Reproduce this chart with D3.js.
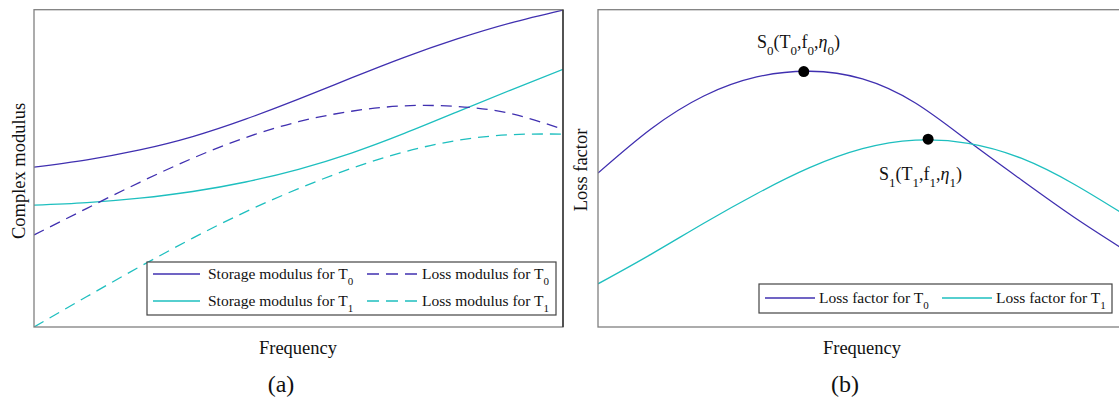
<!DOCTYPE html>
<html>
<head>
<meta charset="utf-8">
<script src="https://cdnjs.cloudflare.com/ajax/libs/d3/7.8.5/d3.min.js"></script>
<style>
  body { margin: 0; background: #fff; }
  svg { display: block; font-family: "Liberation Serif", "Times New Roman", serif; }
</style>
</head>
<body>
<div class="visHolder"></div>
<script>
const w = 1119;
const h = 403;
const blue = "#4030b0";
const cyan = "#1ebfbf";

// normalised frequency, shared by both panels
const frequency = [0, 0.1, 0.2, 0.3, 0.4, 0.5, 0.6, 0.7, 0.8, 0.9, 1];

// panel (a) - complex modulus (normalised)
const storageT0 = [0.504, 0.527, 0.558, 0.600, 0.655, 0.718, 0.785, 0.850, 0.908, 0.958, 0.999];
const storageT1 = [0.384, 0.392, 0.406, 0.427, 0.457, 0.497, 0.548, 0.610, 0.678, 0.746, 0.812];
const lossModT0 = [0.290, 0.374, 0.456, 0.532, 0.597, 0.647, 0.680, 0.697, 0.695, 0.673, 0.623];
const lossModT1 = [0.000, 0.096, 0.190, 0.280, 0.363, 0.436, 0.500, 0.552, 0.588, 0.606, 0.608];

// panel (b) - loss factor (normalised)
const lossFactorT0 = [0.485, 0.624, 0.728, 0.788, 0.806, 0.782, 0.706, 0.586, 0.464, 0.346, 0.238];
const lossFactorT1 = [0.136, 0.229, 0.327, 0.420, 0.502, 0.562, 0.589, 0.579, 0.532, 0.450, 0.349];

// peak points of the loss factor curves
const peakFreq = [0.389, 0.624];
const peakEta = [0.805, 0.592];
const peakLabels = ["S_0(T_0,f_0,~_0)", "S_1(T_1,f_1,~_1)"];

const legendA = ["Storage modulus for T_0", "Loss modulus for T_0", "Storage modulus for T_1", "Loss modulus for T_1"];
const legendB = ["Loss factor for T_0", "Loss factor for T_1"];

const svg = d3.select(".visHolder")
                .append("svg")
                .attr("width", w)
                .attr("height", h)

// writes "T_0" style strings with subscripts, "~" stands for eta
function richText(sel, str, size, subSize, subShift) {
    const parts = str.split(/(_.)/).filter(p => p !== "");
    let low = false;
    parts.forEach(p => {
        const isSub = p[0] === "_";
        const txt = (isSub ? p.slice(1) : p);
        txt.split(/(~)/).filter(c => c !== "").forEach(c => {
            const t = sel.append("tspan")
                .style("font-size", (isSub ? subSize : size) + "px")
                .text(c === "~" ? "\u03b7" : c);
            if (c === "~") t.style("font-style", "italic");
            if (isSub && !low) { t.attr("dy", subShift); low = true; }
            if (!isSub && low) { t.attr("dy", -subShift); low = false; }
        });
    });
}

function makePanel(id, x0, x1) {
    const xScale = d3.scaleLinear().domain([0, 1]).range([x0, x1]);
    const yScale = d3.scaleLinear().domain([0, 1]).range([327, 9.7]);
    svg.append("clipPath").attr("id", "clip-" + id)
       .append("rect")
       .attr("x", x0).attr("y", 9.7)
       .attr("width", x1 - x0).attr("height", 327 - 9.7);
    const g = svg.append("g").attr("id", "panel-" + id);
    return {xScale, yScale, g};
}

function drawLine(p, id, values, color, dash) {
    const line = d3.line()
        .x((d, i) => p.xScale(frequency[i]))
        .y(d => p.yScale(d))
        .curve(d3.curveNatural);
    p.g.append("path")
       .datum(values)
       .attr("clip-path", `url(#clip-${id})`)
       .attr("fill", "none")
       .attr("stroke", color)
       .attr("stroke-width", 1.3)
       .attr("stroke-dasharray", dash || null)
       .attr("d", line);
}

function drawFrame(p, x0, x1) {
    p.g.append("rect")
       .attr("x", x0).attr("y", 9.7)
       .attr("width", x1 - x0).attr("height", 327 - 9.7)
       .attr("fill", "none")
       .attr("stroke", "#808080")
       .attr("stroke-width", 1.3);
    p.g.append("line")
       .attr("x1", x1).attr("x2", x1)
       .attr("y1", 9.7).attr("y2", 327)
       .attr("stroke", "#222")
       .attr("stroke-width", 1.3);
}

//Panel (a)
const pa = makePanel("a", 34, 563);
drawLine(pa, "a", storageT0, blue);
drawLine(pa, "a", storageT1, cyan);
drawLine(pa, "a", lossModT0, blue, "11,7");
drawLine(pa, "a", lossModT1, cyan, "11,7");
drawFrame(pa, 34, 563);

//Panel (b)
const pb = makePanel("b", 598, 1127);
drawLine(pb, "b", lossFactorT0, blue);
drawLine(pb, "b", lossFactorT1, cyan);
drawFrame(pb, 598, 1127);

pb.g.selectAll("circle")
    .data(peakFreq)
    .enter()
    .append("circle")
    .attr("cx", d => pb.xScale(d))
    .attr("cy", (d, i) => pb.yScale(peakEta[i]))
    .attr("r", 5.5)
    .attr("fill", "#000")

const labelPos = [[757, 48], [879, 180]];
peakLabels.forEach((s, i) => {
    const t = pb.g.append("text")
        .attr("x", labelPos[i][0])
        .attr("y", labelPos[i][1])
        .attr("fill", "#111")
    richText(t, s, 18, 13, 7);
});

//Legend (a)
const la = pa.g.append("g").attr("class", "legend");
la.append("rect")
  .attr("x", 147).attr("y", 262)
  .attr("width", 409).attr("height", 53)
  .attr("fill", "#fff")
  .attr("stroke", "#444")
  .attr("stroke-width", 1.2);
const legColor = [blue, blue, cyan, cyan];
const legDash = [null, "12,7", null, "12,7"];
legendA.forEach((s, i) => {
    const ly = (i < 2 ? 274 : 301);
    const sx = (i % 2 === 0 ? 153 : 367);
    const sw = (i % 2 === 0 ? 47 : 50);
    const tx = (i % 2 === 0 ? 208 : 422);
    la.append("line")
      .attr("x1", sx).attr("x2", sx + sw)
      .attr("y1", ly).attr("y2", ly)
      .attr("stroke", legColor[i])
      .attr("stroke-width", 1.3)
      .attr("stroke-dasharray", legDash[i]);
    const t = la.append("text").attr("x", tx).attr("y", ly + 5).attr("fill", "#111");
    richText(t, s, 15.5, 11, 6);
});

//Legend (b)
const lb = pb.g.append("g").attr("class", "legend");
lb.append("rect")
  .attr("x", 759).attr("y", 284)
  .attr("width", 353).attr("height", 29)
  .attr("fill", "#fff")
  .attr("stroke", "#444")
  .attr("stroke-width", 1.2);
legendB.forEach((s, i) => {
    const sx = (i === 0 ? 765 : 942);
    lb.append("line")
      .attr("x1", sx).attr("x2", sx + 50)
      .attr("y1", 298).attr("y2", 298)
      .attr("stroke", i === 0 ? blue : cyan)
      .attr("stroke-width", 1.3);
    const t = lb.append("text").attr("x", sx + 54).attr("y", 303).attr("fill", "#111");
    richText(t, s, 15.5, 11, 6);
});

//Axis titles
svg.append("text")
   .attr("transform", "translate(25,171) rotate(-90)")
   .attr("text-anchor", "middle")
   .style("font-size", "18.5px")
   .attr("fill", "#111")
   .text("Complex modulus");
svg.append("text")
   .attr("transform", "translate(587,170) rotate(-90)")
   .attr("text-anchor", "middle")
   .style("font-size", "18.5px")
   .attr("fill", "#111")
   .text("Loss factor");
[298, 862].forEach(cx => {
    svg.append("text")
       .attr("x", cx).attr("y", 354)
       .attr("text-anchor", "middle")
       .style("font-size", "18.5px")
       .attr("fill", "#111")
       .text("Frequency");
});
[[281, "(a)"], [845, "(b)"]].forEach(d => {
    svg.append("text")
       .attr("x", d[0]).attr("y", 392)
       .attr("text-anchor", "middle")
       .style("font-size", "24px")
       .attr("fill", "#111")
       .text(d[1]);
});
</script>
</body>
</html>
